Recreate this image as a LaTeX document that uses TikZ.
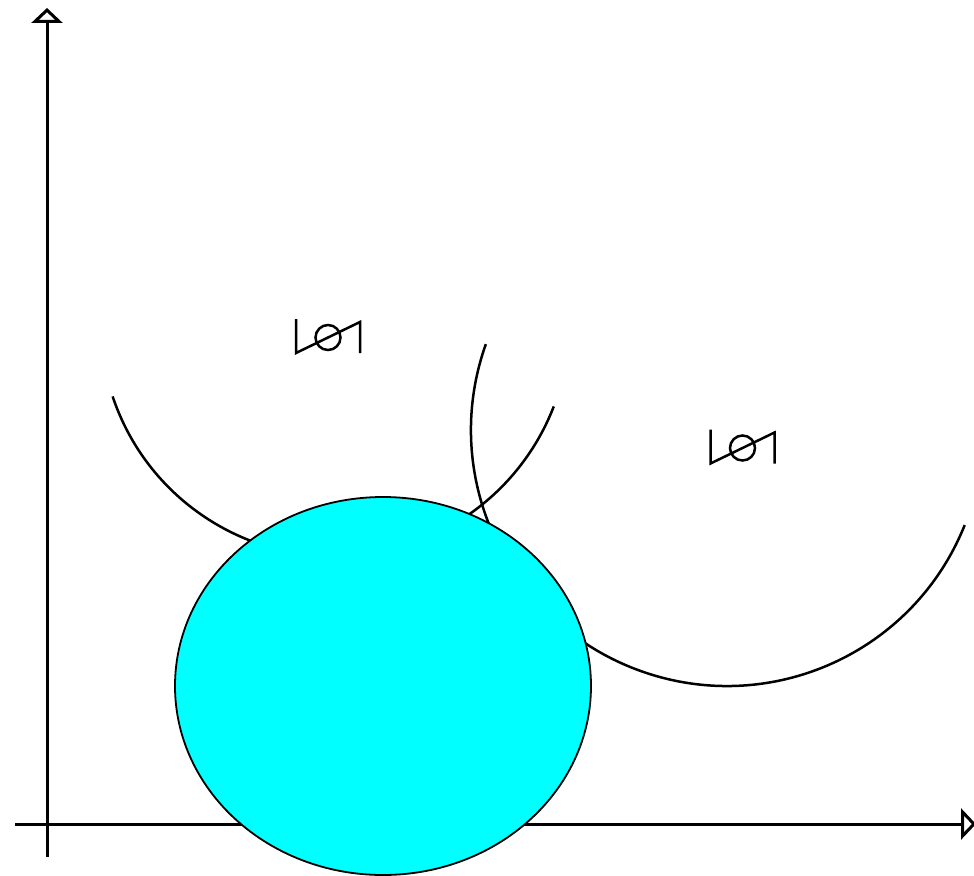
\documentclass[tikz,border=0pt]{standalone}
\usetikzlibrary{arrows.meta}
\definecolor{aqua}{RGB}{0,255,255}

\tikzset{
  lotag/.pic={
    \draw[line width=2.5pt] (0,-34) -- (0,0) -- (64,-31) -- (64,0);
    \draw[line width=2.5pt] (32,-15.5) circle[radius=12.5pt];
  }
}

\begin{document}
\begin{tikzpicture}[x=1pt,y=-1pt,
  axisline/.style={line width=3pt,-{Triangle[open,length=15pt,width=31pt,line width=3pt]}},
  ringarc/.style={line width=2.5pt}]
\useasboundingbox (0,0) rectangle (974,875);

% Centres
\coordinate (leftc) at (335,322);
\coordinate (rightc) at (727,430);
\coordinate (blob) at (383,686);

% Draw arcs
\draw[ringarc] ([shift={(161.5:234.5)}]leftc) arc[start angle=161.5, end angle=21.1, radius=234.5];
\draw[ringarc] ([shift={(199.6:256)}]rightc) arc[start angle=199.6, end angle=21.8, radius=256];

% Draw axes
\draw[axisline] (47,857) -- (47,8);
\draw[axisline] (15,824) -- (976,824);

% Filled ellipse on top
\draw[line width=1.8pt, fill=aqua] (blob) ellipse[x radius=208, y radius=189];

% Labels
\pic at (296,353) {lotag};
\pic at (710.5,463.5) {lotag};
\end{tikzpicture}
\end{document}
